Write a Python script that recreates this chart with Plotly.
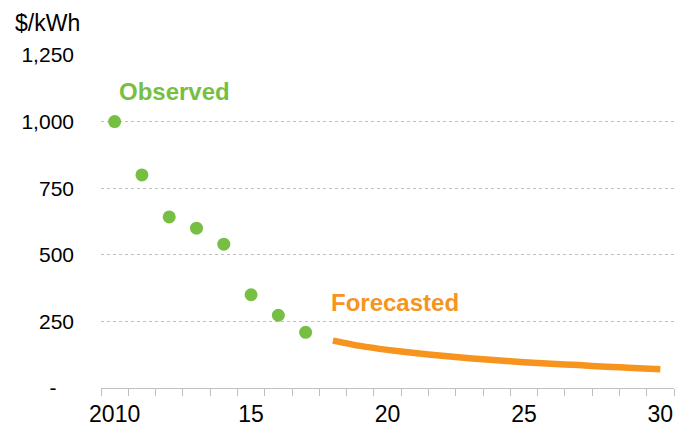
import plotly.graph_objects as go

# Observed battery pack prices
obs_years = [2010, 2011, 2012, 2013, 2014, 2015, 2016, 2017]
obs_prices = [1000, 800, 642, 600, 540, 350, 273, 209]

# Forecasted prices
fc_years = [2018, 2019, 2020, 2021, 2022, 2023, 2024, 2025, 2026, 2027, 2028, 2029, 2030]
fc_prices = [178, 158, 143, 131, 121, 112, 104, 97, 91, 86, 80, 75, 70]

x_tickvals = [2010, 2015, 2020, 2025, 2030]
x_ticktext = ["2010", "15", "20", "25", "30"]
y_tickvals = [0, 250, 500, 750, 1000, 1250]
y_ticktext = ["-\u00a0\u00a0\u00a0", "250", "500", "750", "1,000", "1,250"]

GREEN = "#76BF43"
ORANGE = "#F7941D"
FONT = "Liberation Sans, Arial, sans-serif"

W, H = 688, 426
ML, MR, MT, MB = 101, 14, 55, 38
PW, PH = W - ML - MR, H - MT - MB


def px_to_paper(px, py):
    return (px - ML) / PW, (H - MB - py) / PH


fig = go.Figure()
fig.add_trace(go.Scatter(
    x=fc_years, y=fc_prices, mode="lines",
    line=dict(color=ORANGE, width=6.5, shape="spline", smoothing=0.6),
    hoverinfo="skip",
))
fig.add_trace(go.Scatter(
    x=obs_years, y=obs_prices, mode="markers",
    marker=dict(color=GREEN, size=13, line=dict(width=0)),
    hoverinfo="skip",
))

ox, oy = px_to_paper(117, 91)
fig.add_annotation(x=ox, y=oy, xref="paper", yref="paper", text="<b>Observed</b>",
                   showarrow=False, xanchor="left", yanchor="middle",
                   font=dict(family=FONT, size=24, color=GREEN))
fx, fy = px_to_paper(329, 302)
fig.add_annotation(x=fx, y=fy, xref="paper", yref="paper", text="<b>Forecasted</b>",
                   showarrow=False, xanchor="left", yanchor="middle",
                   font=dict(family=FONT, size=24, color=ORANGE))
ux, uy = px_to_paper(13, 23)
fig.add_annotation(x=ux, y=uy, xref="paper", yref="paper", text="$/kWh",
                   showarrow=False, xanchor="left", yanchor="middle",
                   font=dict(family=FONT, size=23, color="#000000"))

fig.update_layout(
    width=W, height=H,
    margin=dict(l=ML, r=MR, t=MT, b=MB, autoexpand=False),
    paper_bgcolor="white", plot_bgcolor="white",
    showlegend=False,
    font=dict(family=FONT, size=21, color="#000000"),
)
fig.update_xaxes(
    range=[2009.5, 2030.5], tickvals=x_tickvals, ticktext=x_ticktext,
    ticks="", showgrid=False, zeroline=False, automargin=False,
    showline=True, linecolor="#BFBFBF", linewidth=1,
    tickfont=dict(size=23), ticklabelstandoff=5,
    minor=dict(tick0=2009.5, dtick=1, ticks="outside", ticklen=7,
               tickcolor="#BFBFBF", tickwidth=1, showgrid=False),
)
fig.update_yaxes(
    range=[0, 1250], tickvals=y_tickvals, ticktext=y_ticktext,
    ticks="", showline=False, zeroline=False, automargin=False,
    showgrid=True, gridcolor="#BFBFBF", gridwidth=1, griddash="dot",
    tickfont=dict(size=21), ticklabelstandoff=26,
)

fig.write_html("out.html")
